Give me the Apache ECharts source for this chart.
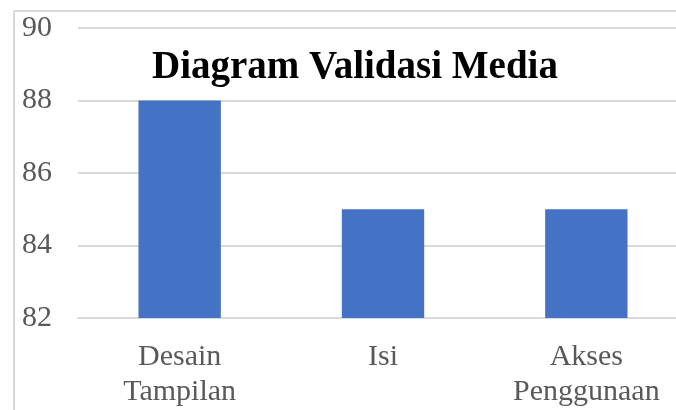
<!DOCTYPE html>
<html><head><meta charset="utf-8">
<script src="https://cdn.jsdelivr.net/npm/echarts@6/dist/echarts.min.js"></script>
<style>html,body{margin:0;padding:0;background:#fff}#c{width:676px;height:410px}</style>
</head><body><div id="c"></div>
<script>
const categories = ['Desain\nTampilan', 'Isi', 'Akses\nPenggunaan'];
const values = [88, 85, 85];
const yTicks = [82, 84, 86, 88, 90];
const titleText = 'Diagram Validasi Media';

const chart = echarts.init(document.getElementById('c'));
chart.setOption({
  animation: false,
  backgroundColor: '#fff',
  title: {
    text: titleText, left: 350, top: 43, textAlign: 'center',
    textStyle: {fontFamily: 'Liberation Serif', fontWeight: 'bold', fontSize: 39, color: '#000'}
  },
  graphic: [
    {type: 'line', shape: {x1: 14, y1: 11, x2: 676, y2: 11}, style: {stroke: '#d9d9d9', lineWidth: 2}, silent: true},
    {type: 'line', shape: {x1: 14, y1: 11, x2: 14, y2: 410}, style: {stroke: '#d9d9d9', lineWidth: 2}, silent: true}
  ],
  grid: {left: 78, width: 610, top: 28, bottom: 92, containLabel: false, outerBoundsMode: 'none'},
  xAxis: {
    type: 'category', data: categories,
    axisLine: {show: true, lineStyle: {color: '#d9d9d9', width: 2}},
    axisTick: {show: false},
    axisLabel: {fontFamily: 'Liberation Serif', fontSize: 30, color: '#595959', lineHeight: 35, margin: 22}
  },
  yAxis: {
    type: 'value', min: yTicks[0], max: yTicks[yTicks.length - 1], interval: 2,
    axisLine: {show: false}, axisTick: {show: false},
    splitLine: {lineStyle: {color: '#d9d9d9', width: 2}},
    axisLabel: {fontFamily: 'Liberation Serif', fontSize: 30, color: '#595959', margin: 26}
  },
  series: [{
    type: 'bar', data: values, barWidth: '40.5%',
    itemStyle: {color: '#4472c4'}
  }]
});
</script></body></html>
